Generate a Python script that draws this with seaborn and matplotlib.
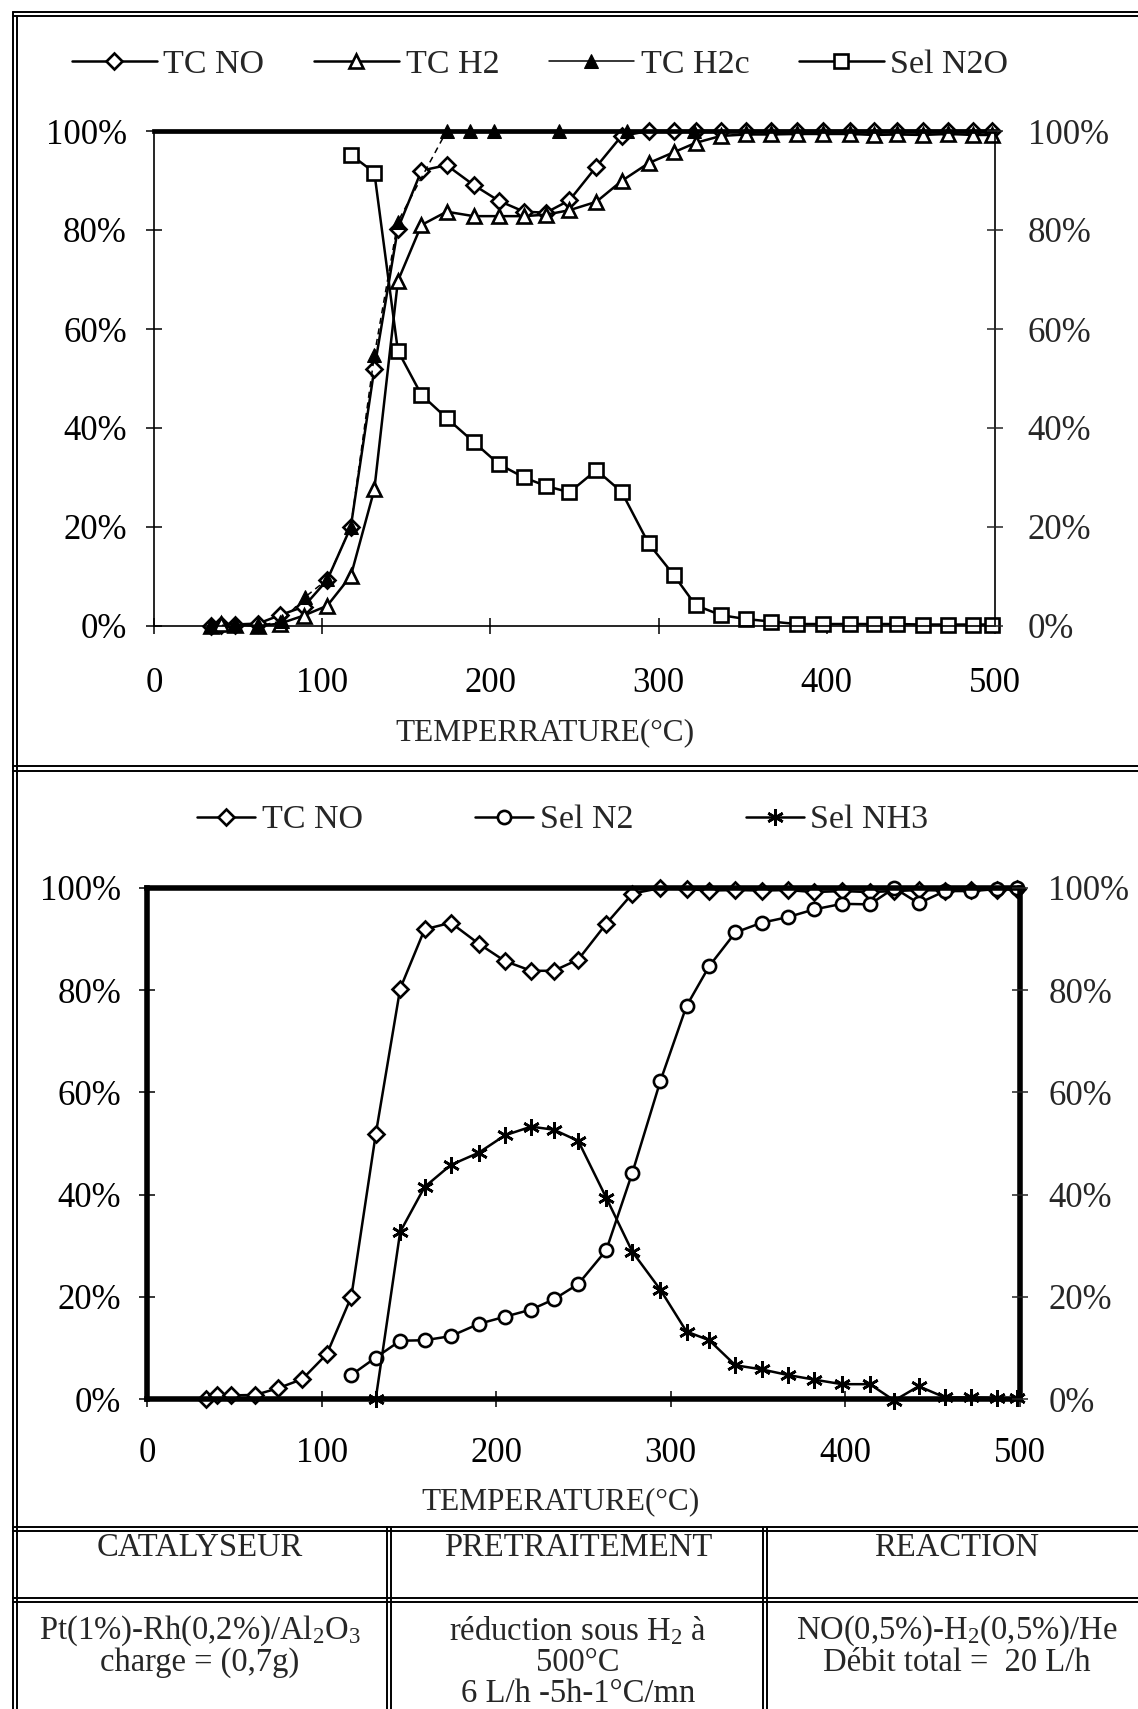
import matplotlib
matplotlib.use("Agg")
import matplotlib.pyplot as plt
from matplotlib.lines import Line2D
from matplotlib.ticker import PercentFormatter, MultipleLocator
import seaborn as sns

sns.set_theme(style="ticks")
plt.rcParams["font.family"] = ["Liberation Serif", "DejaVu Serif"]
plt.rcParams["mathtext.fontset"] = "custom"
plt.rcParams["mathtext.rm"] = "Liberation Serif"
plt.rcParams["mathtext.it"] = "Liberation Serif:italic"

# temperature grid of the run (°C)
temp = [34, 40, 48, 62, 75, 89, 103, 117, 131, 145, 159, 174, 190, 205, 220, 233, 247,
        263, 278, 294, 309, 322, 337, 352, 367, 382, 398, 414, 428, 442, 457, 472, 487, 498]

# --- top chart ---
tc_no_top = [0, 0.3, 0.3, 0.5, 2.2, 3.9, 9.3, 20, 52, 80.3, 92, 93.1, 89.1, 85.9, 83.7, 83.5, 86,
             92.8, 99, 100, 100, 100, 100, 100, 100, 100, 100, 100, 100, 100, 100, 100, 100, 100]
tc_h2_top = [0, 0.5, 0.3, 0, 0.5, 2.1, 4.1, 10.1, 27.6, 69.7, 81, 83.7, 82.8, 82.8, 82.8, 83.1, 84,
             85.7, 89.9, 93.5, 95.7, 97.6, 99, 99.3, 99.3, 99.4, 99.4, 99.4, 99.2, 99.3, 99.2, 99.4, 99.2, 99.2]
temp_h2c = [34, 48, 62, 76, 90, 103, 117, 131, 145, 174, 188, 202, 241, 281, 321]
tc_h2c_top = [0, 0.3, 0, 1, 5.9, 9.4, 20, 54.7, 81.7, 100, 100, 100, 100, 100, 100]
temp_n2o = temp[7:]
sel_n2o = [95.2, 91.6, 55.6, 46.7, 42, 37.2, 32.7, 30, 28.3, 27, 31.5, 27.1, 16.7, 10.3, 4.2, 2.2,
           1.4, 0.9, 0.4, 0.4, 0.4, 0.4, 0.4, 0.3, 0.3, 0.3, 0.3]

# --- bottom chart ---
tc_no_bot = [0, 0.7, 0.7, 0.8, 2.1, 3.9, 8.8, 20, 51.8, 80.3, 91.9, 93.2, 89.1, 85.7, 83.8, 83.8, 86,
             93, 98.9, 100, 99.8, 99.5, 99.6, 99.5, 99.6, 99.2, 99.4, 99.2, 99.4, 99.6, 99.5, 99.6, 99.7, 99.8]
temp_n2 = temp[7:]
sel_n2 = [4.7, 8.1, 11.4, 11.5, 12.3, 14.7, 16.1, 17.5, 19.5, 22.5, 29.1, 44.3, 62.2, 76.9, 84.7,
          91.3, 93.2, 94.3, 95.8, 96.9, 96.8, 100, 97, 99.4, 99.4, 99.8, 100]
temp_nh3 = temp[8:]
sel_nh3 = [0, 32.7, 41.5, 45.8, 48.2, 51.6, 53.3, 52.7, 50.5, 39.4, 28.8, 21.4, 13.2, 11.5, 6.6,
           5.8, 4.7, 3.8, 2.9, 2.9, -0.3, 2.5, 0.3, 0.3, 0.2, 0.1]

W, H = 1138, 1709
fig = plt.figure(figsize=(W / 100, H / 100), dpi=100)


def fx(px):
    return px / W


def fy(py):
    return 1 - py / H


open_kw = dict(color="black", markerfacecolor="white", markeredgecolor="black",
               markeredgewidth=1.9, linewidth=1.8, clip_on=False)


def style_axes(ax, lpad, rpad, xpad, fs=25):
    ax.set_xlim(0, 500)
    ax.set_ylim(0, 100)
    ax.xaxis.set_major_locator(MultipleLocator(100))
    ax.yaxis.set_major_locator(MultipleLocator(20))
    ax.yaxis.set_major_formatter(PercentFormatter(100, decimals=0))
    ax.tick_params(axis="both", direction="inout", length=11, width=1.1, labelsize=fs,
                   colors="black")
    ax.tick_params(axis="y", pad=lpad)
    ax.tick_params(axis="x", pad=xpad)
    ax.set_xlabel("")
    ax.set_ylabel("")
    ax2 = ax.twinx()
    ax2.set_ylim(0, 100)
    ax2.yaxis.set_major_locator(MultipleLocator(20))
    ax2.yaxis.set_major_formatter(PercentFormatter(100, decimals=0))
    ax2.tick_params(axis="y", direction="inout", length=11, width=1.1, labelsize=fs, pad=rpad)
    for s in ax2.spines.values():
        s.set_visible(False)
    return ax2


# ---------- top chart ----------
ax1 = fig.add_axes([fx(154), fy(626), fx(995) - fx(154), fy(131) - fy(626)])
ax1.set_facecolor("white")
sns.lineplot(x=temp, y=tc_no_top, marker="D", markersize=8, label="TC NO", ax=ax1, **open_kw)
sns.lineplot(x=temp, y=tc_h2_top, marker="^", markersize=9.5, label="TC H2", ax=ax1, **open_kw)
sns.lineplot(x=temp_h2c, y=tc_h2c_top, marker="^", markersize=9.5, label="TC H2c", ax=ax1,
             color="black", markerfacecolor="black", markeredgecolor="black",
             linewidth=1.1, linestyle=(0, (4, 3)), clip_on=False)
sns.lineplot(x=temp_n2o, y=sel_n2o, marker="s", markersize=9.5, label="Sel N2O", ax=ax1, **open_kw)
ax1r = style_axes(ax1, lpad=14, rpad=18, xpad=24)
for k in ["left", "bottom", "right"]:
    ax1.spines[k].set_linewidth(1.2)
    ax1.spines[k].set_color("black")
ax1.spines["top"].set_linewidth(3.4)
ax1.spines["top"].set_color("black")
h, l = ax1.get_legend_handles_labels()
ax1.legend_.remove()
leg1 = fig.legend(h, l, loc="center", bbox_to_anchor=(fx(540), fy(65)), ncol=4, frameon=False,
                  fontsize=24.5, handlelength=2.5, handletextpad=0.2, columnspacing=1.45)
for line in leg1.get_lines():
    line.set_linestyle("-")
fig.text(fx(545), fy(733), "TEMPERRATURE(°C)", ha="center", va="center", fontsize=22.5)

# ---------- bottom chart ----------
ax2 = fig.add_axes([fx(147), fy(1399), fx(1020) - fx(147), fy(888) - fy(1399)])
ax2.set_facecolor("white")
sns.lineplot(x=temp, y=tc_no_bot, marker="D", markersize=8, label="TC NO", ax=ax2, **open_kw)
sns.lineplot(x=temp_n2, y=sel_n2, marker="o", markersize=9.5, label="Sel N2", ax=ax2, **open_kw)
sns.lineplot(x=temp_nh3, y=sel_nh3, marker=(6, 2, 0), markersize=12, label="Sel NH3", ax=ax2,
             color="black", markeredgecolor="black", markeredgewidth=1.9, linewidth=1.8,
             clip_on=False)
ax2r = style_axes(ax2, lpad=13, rpad=15, xpad=22)
for s in ax2.spines.values():
    s.set_linewidth(4)
    s.set_color("black")
h, l = ax2.get_legend_handles_labels()
ax2.legend_.remove()
fig.legend(h, l, loc="center", bbox_to_anchor=(fx(563), fy(820)), ncol=3, frameon=False,
           fontsize=24.5, handlelength=1.7, handletextpad=0.2, columnspacing=3.3)
fig.text(fx(561), fy(1502), "TEMPERATURE(°C)", ha="center", va="center", fontsize=22.5)

# ---------- page frame (double lines) ----------
def hline(py, x0=13, x1=W):
    fig.add_artist(Line2D([fx(x0), fx(x1)], [fy(py), fy(py)], color="black", lw=1.4))


def vline(px, y0, y1=H):
    fig.add_artist(Line2D([fx(px), fx(px)], [fy(y0), fy(y1)], color="black", lw=1.4))


for py in (12, 16, 766, 771, 1527, 1531, 1598, 1602):
    hline(py)
vline(13, 12)
vline(17, 16)
for px in (387, 391, 763, 767):
    vline(px, 1527)

# ---------- table text ----------
fs_t = 23.5
fig.text(fx(200), fy(1548), "CATALYSEUR", ha="center", va="center", fontsize=fs_t)
fig.text(fx(578), fy(1548), "PRETRAITEMENT", ha="center", va="center", fontsize=fs_t)
fig.text(fx(957), fy(1548), "REACTION", ha="center", va="center", fontsize=fs_t)
fig.text(fx(200), fy(1631), r"Pt(1%)-Rh(0,2%)/Al$_2$O$_3$", ha="center", va="center", fontsize=fs_t)
fig.text(fx(200), fy(1663), "charge = (0,7g)", ha="center", va="center", fontsize=fs_t)
fig.text(fx(578), fy(1631), r"réduction sous H$_2$ à", ha="center", va="center", fontsize=fs_t)
fig.text(fx(578), fy(1663), "500°C", ha="center", va="center", fontsize=fs_t)
fig.text(fx(578), fy(1694), "6 L/h -5h-1°C/mn", ha="center", va="center", fontsize=fs_t)
fig.text(fx(957), fy(1631), r"NO(0,5%)-H$_2$(0,5%)/He", ha="center", va="center", fontsize=fs_t)
fig.text(fx(957), fy(1663), "Débit total =  20 L/h", ha="center", va="center", fontsize=fs_t)

fig.savefig("out.png", dpi=100, facecolor="white")
